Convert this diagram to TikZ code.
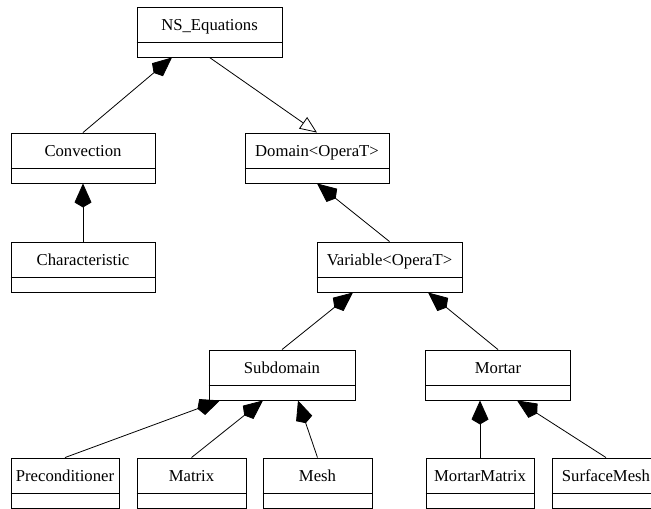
\documentclass[tikz,border=0pt]{standalone}
\usepackage{fontspec}
\setmainfont{Liberation Serif}
\usetikzlibrary{arrows.meta,calc}
\begin{document}
\begin{tikzpicture}[x=1pt,y=1pt,
  cls/.style={draw, line width=0.9pt, fill=white, inner sep=0pt, minimum height=50pt,
    text height=12pt, text depth=15pt, font=\fontsize{16.7}{20}\selectfont},
  sepline/.style={line width=1.3pt},
  comp/.style={line width=0.8pt, -{Kite[length=24pt,width=17pt,inset=5pt]}},
  inh/.style={line width=0.8pt, -{Triangle[open,length=17pt,width=14pt,line width=0.8pt]}}
]
\useasboundingbox (0,0) rectangle (651,-509);
\node[cls, minimum width=145pt] (ns)   at (209.5,-32) {NS\_Equations};
\node[cls, minimum width=144pt] (conv) at (83,-158) {Convection};
\node[cls, minimum width=144pt] (char) at (83,-267) {Characteristic};
\node[cls, minimum width=144pt] (dom)  at (317,-158) {Domain<OperaT>};
\node[cls, minimum width=145pt] (var)  at (389.5,-267) {Variable<OperaT>};
\node[cls, minimum width=146pt] (sub)  at (282,-375) {Subdomain};
\node[cls, minimum width=145pt] (mort) at (498,-375) {Mortar};
\node[cls, minimum width=108pt] (pre)  at (65,-483) {Preconditioner};
\node[cls, minimum width=109pt] (mat)  at (191.5,-483) {Matrix};
\node[cls, minimum width=109pt] (mesh) at (317.5,-483) {Mesh};
\node[cls, minimum width=108pt] (mm)   at (480,-483) {MortarMatrix};
\node[cls, minimum width=108pt] (sm)   at (606,-483) {SurfaceMesh};
\foreach \n in {ns,conv,char,dom,var,sub,mort,pre,mat,mesh,mm,sm}{
  \draw[sepline] ([yshift=-36pt]\n.north west) -- ([yshift=-36pt]\n.north east);
}
\draw[comp] (conv.north) -- ($(ns.south)+(-37.5,0)$);
\draw[inh] (ns.south) -- (dom.north);
\draw[comp] (char.north) -- (conv.south);
\draw[comp] (var.north) -- (dom.south);
\draw[comp] (sub.north) -- ($(var.south)+(-36.5,0)$);
\draw[comp] (mort.north) -- ($(var.south)+(38.5,0)$);
\draw[comp] (pre.north) -- ($(sub.south)+(-62,0)$);
\draw[comp] (mat.north) -- ($(sub.south)+(-19,0)$);
\draw[comp] (mesh.north) -- ($(sub.south)+(16,0)$);
\draw[comp] (mm.north) -- ($(mort.south)+(-18,0)$);
\draw[comp] (sm.north) -- ($(mort.south)+(19,0)$);
\end{tikzpicture}
\end{document}
